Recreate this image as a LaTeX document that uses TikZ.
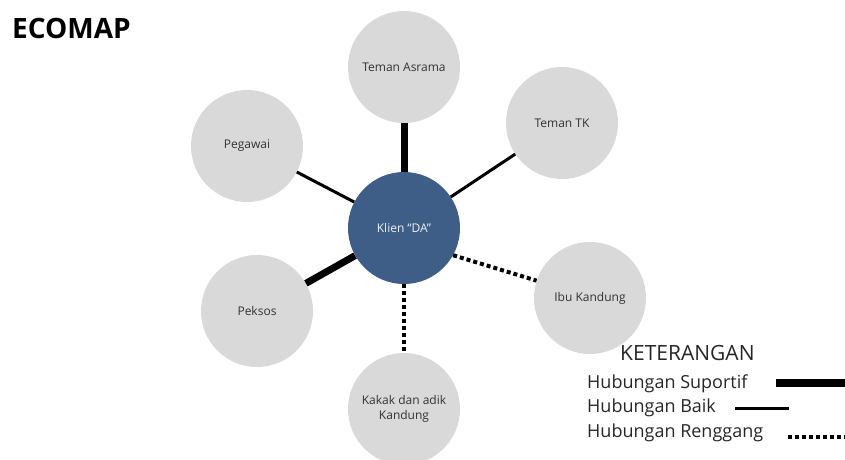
\documentclass[tikz,border=0pt]{standalone}
\usepackage{fontspec}
\setmainfont{Open Sans}
\definecolor{circgray}{HTML}{D9D9D9}
\definecolor{clientblue}{HTML}{3F5E87}
\definecolor{txtgray}{HTML}{333333}
\begin{document}
\begin{tikzpicture}[x=1pt,y=-1pt,
  person/.style={circle,fill=circgray,minimum size=112pt,inner sep=0pt,text=txtgray,font=\fontsize{12}{15}\selectfont,align=center},
  client/.style={circle,fill=clientblue,minimum size=112pt,inner sep=0pt,text=white!90!clientblue,font=\fontsize{12}{15}\selectfont},
  suportif/.style={line width=7pt},
  baik/.style={line width=3pt},
  renggang/.style={line width=4pt,dash pattern=on 4pt off 3pt},
  legendtxt/.style={anchor=base west,inner sep=0pt,font=\fontsize{18}{22}\selectfont,text=black!85}
]
\useasboundingbox (0,0) rectangle (845,459);
\node[anchor=base west,inner sep=0pt,font=\fontsize{28}{32}\selectfont\bfseries] (title) at (12,38) {ECOMAP};

\node[client] (c) at (404,228) {Klien “DA”};
\node[person] (asrama) at (404,67) {Teman Asrama};
\node[person] (tk) at (562,123) {Teman TK};
\node[person] (pegawai) at (247,146) {Pegawai};
\node[person] (peksos) at (257,311) {Peksos};
\node[person] (ibu) at (590,298) {Ibu Kandung};
\node[person] (kakak) at (404,409) {Kakak dan adik\\Kandung};

\draw[suportif] (c) -- (asrama);
\draw[baik] (c) -- (tk);
\draw[baik] (c) -- (pegawai);
\draw[suportif] (c) -- (peksos);
\draw[renggang] (c.-29) -- (ibu.162);
\draw[renggang] (c) -- (kakak);

\node[anchor=base west,inner sep=0pt,font=\fontsize{21}{25}\selectfont,text=black!85] (ket) at (620,360) {KETERANGAN};
\node[legendtxt] (l1) at (587,388) {Hubungan Suportif};
\node[legendtxt] (l2) at (587,412) {Hubungan Baik};
\node[legendtxt] (l3) at (587,437) {Hubungan Renggang};
\coordinate (a1) at (776,383);
\coordinate (b1) at (845,383);
\coordinate (a2) at (735,408);
\coordinate (b2) at (789,408);
\coordinate (a3) at (788,437);
\coordinate (b3) at (845,437);
\draw[line width=8pt] (a1) -- (b1);
\draw[baik] (a2) -- (b2);
\draw[renggang] (a3) -- (b3);
\end{tikzpicture}
\end{document}
